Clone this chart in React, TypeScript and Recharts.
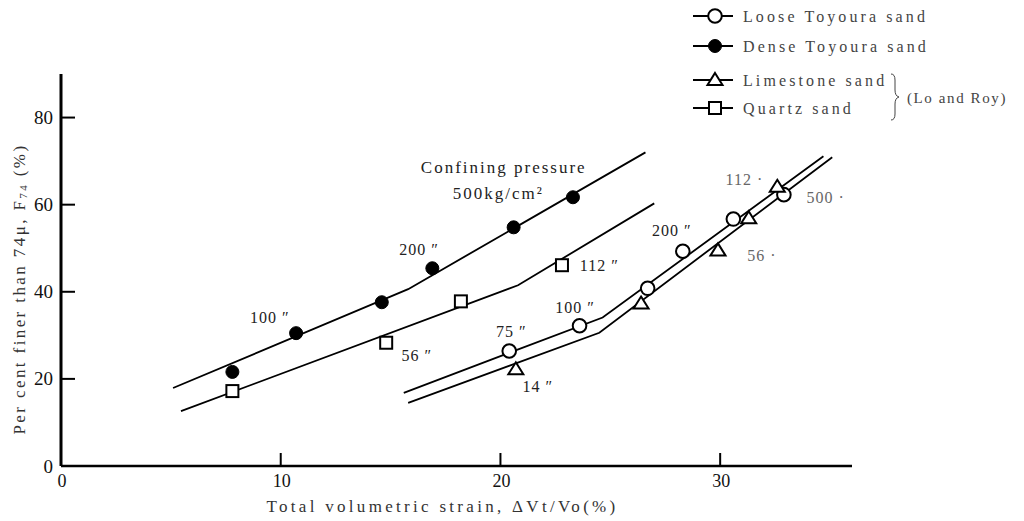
import React from 'react';
import { ComposedChart, Line, Scatter, XAxis, YAxis, ReferenceDot, Legend } from 'recharts';

// ---- measured points ----
const looseX = [20.4, 23.6, 26.7, 28.3, 30.6, 32.9];
const looseY = [26.4, 32.2, 40.8, 49.3, 56.7, 62.3];
const denseX = [7.8, 10.7, 14.6, 16.9, 20.6, 23.3];
const denseY = [21.6, 30.5, 37.6, 45.4, 54.8, 61.7];
const limeX = [20.7, 26.4, 29.9, 31.3, 32.6];
const limeY = [22.2, 37.3, 49.5, 56.9, 64.1];
const quartzX = [7.8, 14.8, 18.2, 22.8];
const quartzY = [17.2, 28.3, 37.8, 46.1];

// ---- fitted lines (vertices) ----
const looseFitX = [15.6, 24.65, 34.7];
const looseFitY = [16.8, 34.1, 71.1];
const denseFitX = [5.1, 15.8, 26.6];
const denseFitY = [17.9, 40.6, 72.0];
const limeFitX = [15.8, 24.5, 35.1];
const limeFitY = [14.5, 30.6, 70.9];
const quartzFitX = [5.46, 20.8, 27.0];
const quartzFitY = [12.6, 41.5, 60.3];

// ---- ticks ----
const xTicks = [0, 10, 20, 30];
const yTicks = [0, 20, 40, 60, 80];

// ---- annotations (text, x, y in data units) ----
const annText = ['Confining pressure', '500kg/cm²', '200 ″', '100 ″', '56 ″', '112 ″', '100 ″', '75 ″', '14 ″', '200 ″', '56 ·', '112 ·', '500 ·'];
const annX = [20.15, 19.9, 16.3, 9.5, 16.2, 24.5, 23.4, 20.5, 21.7, 27.8, 31.9, 31.1, 34.8];
const annY = [68.6, 62.6, 49.8, 34.2, 25.5, 46.1, 36.5, 31.0, 18.3, 54.1, 48.4, 65.8, 61.7];
const annFaint = [false, false, false, false, false, false, false, false, false, false, true, true, true];

// ---- legend ----
const legendLabels = ['Loose Toyoura sand', 'Dense Toyoura sand', 'Limestone sand', 'Quartz sand'];
const legendKinds = ['open', 'filled', 'triangle', 'square'];
const groupNote = '(Lo and Roy)';

const zip = (xs: number[], ys: number[]) => xs.map((x, i) => ({ x, y: ys[i] }));

const FONT = "'Liberation Serif', 'DejaVu Serif', serif";

const looseData = zip(looseX, looseY);
const denseData = zip(denseX, denseY);
const limeData = zip(limeX, limeY);
const quartzData = zip(quartzX, quartzY);
const looseFit = zip(looseFitX, looseFitY);
const denseFit = zip(denseFitX, denseFitY);
const limeFit = zip(limeFitX, limeFitY);
const quartzFit = zip(quartzFitX, quartzFitY);

const Marker = ({ kind, cx, cy }: { kind: string; cx: number; cy: number }) => {
  if (kind === 'open') return <circle cx={cx} cy={cy} r={6.8} fill="#fff" stroke="#000" strokeWidth={2} />;
  if (kind === 'filled') return <circle cx={cx} cy={cy} r={6.5} fill="#000" stroke="#000" strokeWidth={1} />;
  if (kind === 'triangle')
    return (
      <polygon
        points={`${cx},${cy - 7} ${cx + 7.5},${cy + 5} ${cx - 7.5},${cy + 5}`}
        fill="#fff"
        stroke="#000"
        strokeWidth={2}
      />
    );
  return <rect x={cx - 6} y={cy - 6} width={12} height={12} fill="#fff" stroke="#000" strokeWidth={2} />;
};

const shapeOf = (kind: string) => (p: any) => <Marker kind={kind} cx={p.cx} cy={p.cy} />;

const XTick = (props: any) => {
  const { x, y, payload } = props;
  return (
    <g>
      {payload.value !== 0 && <line x1={x} y1={y} x2={x} y2={y - 13} stroke="#000" strokeWidth={2} />}
      <text x={x + 1} y={y + 15} textAnchor="middle" dominantBaseline="central" style={{ fontFamily: FONT, fontSize: 18 }} fill="#111">
        {payload.value}
      </text>
    </g>
  );
};

const YTick = (props: any) => {
  const { x, y, payload } = props;
  return (
    <g>
      {payload.value !== 0 && <line x1={x} y1={y} x2={x + 14} y2={y} stroke="#000" strokeWidth={2} />}
      <text x={x - 8} y={y} textAnchor="end" dominantBaseline="central" style={{ fontFamily: FONT, fontSize: 19 }} fill="#111">
        {payload.value}
      </text>
    </g>
  );
};

const YLabel = (props: any) => {
  const vb = props.viewBox || { x: 21, y: 74, width: 40, height: 392 };
  const cx = vb.x - 2;
  const cy = vb.y + vb.height / 2 + 19;
  return (
    <text
      x={cx}
      y={cy}
      transform={`rotate(-90, ${cx}, ${cy})`}
      textAnchor="middle"
      dominantBaseline="central"
      style={{ fontFamily: FONT, fontSize: 17, letterSpacing: 2.4 }}
      fill="#333"
    >
      Per cent finer than 74μ, F<tspan style={{ fontSize: 11 }} dy={4}>74</tspan>
      <tspan dy={-4}> (%)</tspan>
    </text>
  );
};

const XLabel = (props: any) => {
  const vb = props.viewBox || { x: 61, y: 466, width: 791, height: 30 };
  return (
    <text
      x={vb.x + vb.width / 2 - 14}
      y={vb.y + 40}
      textAnchor="middle"
      dominantBaseline="central"
      style={{ fontFamily: FONT, fontSize: 17, letterSpacing: 3.3 }}
      fill="#333"
    >
      Total volumetric strain, ΔVt/Vo(%)
    </text>
  );
};

const LegendBox = () => {
  const rowsY = [16, 46, 80, 108];
  return (
    <svg width={336} height={130} style={{ display: 'block' }}>
      {legendLabels.map((lab, i) => (
        <g key={lab}>
          <line x1={5} y1={rowsY[i]} x2={45} y2={rowsY[i]} stroke="#000" strokeWidth={2} />
          <Marker kind={legendKinds[i]} cx={27} cy={rowsY[i]} />
          <text x={55} y={rowsY[i]} dominantBaseline="central" style={{ fontFamily: FONT, fontSize: 16, letterSpacing: 3.1 }} fill="#444">
            {lab}
          </text>
        </g>
      ))}
      <path
        d="M 203 74 q 4 0 4 6 v 10 q 0 6 4 7 q -4 1 -4 7 v 10 q 0 6 -4 6"
        fill="none"
        stroke="#444"
        strokeWidth={1}
      />
      <text x={219} y={98} dominantBaseline="central" style={{ fontFamily: FONT, fontSize: 15, letterSpacing: 1.6 }} fill="#444">
        {groupNote}
      </text>
    </svg>
  );
};

export default function App() {
  if (typeof document !== 'undefined') {
    document.body.style.margin = '0';
  }
  return (
    <ComposedChart width={1024} height={521} margin={{ top: 74, right: 172, bottom: 25, left: 21 }} style={{ fontFamily: FONT }}>
      <XAxis
        type="number"
        dataKey="x"
        domain={[0, 36]}
        ticks={xTicks}
        allowDataOverflow
        height={30}
        tickSize={0}
        tickMargin={0}
        tick={<XTick />}
        axisLine={{ stroke: '#000', strokeWidth: 2.5 }}
        tickLine={false}
        label={<XLabel />}
      />
      <YAxis
        type="number"
        dataKey="y"
        domain={[0, 90]}
        ticks={yTicks}
        allowDataOverflow
        width={40}
        tickSize={0}
        tickMargin={0}
        tick={<YTick />}
        axisLine={{ stroke: '#000', strokeWidth: 3 }}
        tickLine={false}
        label={<YLabel />}
      />
      <Legend
        layout="horizontal"
        verticalAlign="middle"
        align="center"
        wrapperStyle={{ position: 'absolute', left: 688, top: 0, width: 336, height: 130 }}
        content={() => <LegendBox />}
      />
      <Line data={denseFit} dataKey="y" type="linear" stroke="#000" strokeWidth={1.8} dot={false} activeDot={false} isAnimationActive={false} legendType="none" />
      <Line data={quartzFit} dataKey="y" type="linear" stroke="#000" strokeWidth={1.8} dot={false} activeDot={false} isAnimationActive={false} legendType="none" />
      <Line data={looseFit} dataKey="y" type="linear" stroke="#000" strokeWidth={1.8} dot={false} activeDot={false} isAnimationActive={false} legendType="none" />
      <Line data={limeFit} dataKey="y" type="linear" stroke="#000" strokeWidth={1.8} dot={false} activeDot={false} isAnimationActive={false} legendType="none" />
      <Scatter data={denseData} dataKey="y" shape={shapeOf('filled')} isAnimationActive={false} />
      <Scatter data={quartzData} dataKey="y" shape={shapeOf('square')} isAnimationActive={false} />
      <Scatter data={looseData} dataKey="y" shape={shapeOf('open')} isAnimationActive={false} />
      <Scatter data={limeData} dataKey="y" shape={shapeOf('triangle')} isAnimationActive={false} />
      {annText.map((t, i) => (
        <ReferenceDot
          key={i}
          x={annX[i]}
          y={annY[i]}
          r={0}
          fill="none"
          stroke="none"
          label={{
            value: t,
            position: 'center',
            style: { fontFamily: FONT },
            fontFamily: FONT,
            fontSize: i < 2 ? 17 : 16,
            letterSpacing: i < 2 ? 2.0 : 1,
            fill: annFaint[i] ? '#666' : '#222',
          }}
        />
      ))}
    </ComposedChart>
  );
}
